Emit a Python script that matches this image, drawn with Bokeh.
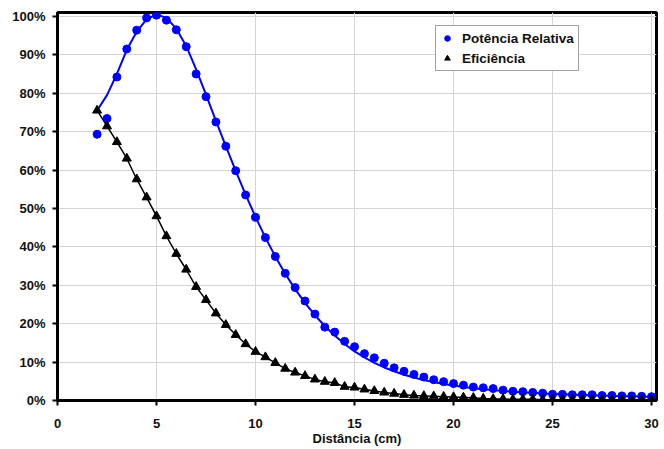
from bokeh.plotting import figure
from bokeh.models import Range1d, FixedTicker, Legend, LegendItem
from bokeh.embed import file_html
from bokeh.resources import INLINE

distancia = [2.0, 2.5, 3.0, 3.5, 4.0, 4.5, 5.0, 5.5, 6.0, 6.5, 7.0, 7.5, 8.0, 8.5, 9.0, 9.5,
             10.0, 10.5, 11.0, 11.5, 12.0, 12.5, 13.0, 13.5, 14.0, 14.5, 15.0, 15.5, 16.0, 16.5,
             17.0, 17.5, 18.0, 18.5, 19.0, 19.5, 20.0, 20.5, 21.0, 21.5, 22.0, 22.5, 23.0, 23.5,
             24.0, 24.5, 25.0, 25.5, 26.0, 26.5, 27.0, 27.5, 28.0, 28.5, 29.0, 29.5, 30.0]

potencia_relativa = [69.3, 73.4, 84.2, 91.5, 96.4, 99.6, 100.3, 99.0, 96.5, 92.1, 85.0, 79.1,
                     72.5, 66.2, 59.8, 53.5, 47.7, 42.4, 37.5, 33.1, 29.4, 25.9, 22.5, 19.1,
                     17.8, 15.4, 14.0, 12.2, 11.1, 9.7, 8.5, 7.6, 6.8, 6.1, 5.4, 4.9, 4.4, 4.0,
                     3.5, 3.3, 3.1, 2.7, 2.4, 2.3, 2.1, 1.9, 1.6, 1.6, 1.5, 1.5, 1.5, 1.3, 1.3,
                     1.2, 1.2, 1.1, 1.0]

ajuste_potencia = [75.5, 79.5, 85.0, 91.3, 96.0, 99.2, 100.5, 99.6, 96.8, 92.3, 86.2, 79.6,
                   72.8, 66.2, 59.8, 53.6, 47.8, 42.4, 37.5, 33.0, 29.0, 25.4, 22.2, 19.4,
                   16.9, 14.7, 12.8, 11.2, 9.8, 8.6, 7.6, 6.7, 6.0, 5.3, 4.8, 4.3, 3.9, 3.5,
                   3.2, 2.9, 2.7, 2.5, 2.3, 2.1, 2.0, 1.8, 1.7, 1.6, 1.5, 1.4, 1.3, 1.3, 1.2,
                   1.1, 1.1, 1.0, 1.0]

eficiencia = [75.5, 71.4, 67.3, 63.0, 57.6, 52.9, 48.0, 42.8, 38.2, 34.1, 29.6, 26.2,
              22.7, 19.7, 17.1, 14.7, 12.7, 11.3, 9.8, 8.3, 7.3, 6.4, 5.5, 4.9,
              4.6, 3.6, 3.4, 2.9, 2.5, 2.1, 1.8, 1.5, 1.3, 1.2, 1.1, 1.0, 0.9, 0.8,
              0.7, 0.5, 0.4, 0.4, 0.3, 0.3, 0.3, 0.2, 0.2, 0.2, 0.2, 0.2, 0.1, 0.1, 0.1,
              0.1, 0.1, 0.1, 0.1]

x_ticks = [0, 5, 10, 15, 20, 25, 30]
y_ticks = [0, 10, 20, 30, 40, 50, 60, 70, 80, 90, 100]
y_tick_labels = {t: f"{t}%" for t in y_ticks}

FONT = "Liberation Sans"

p = figure(width=660, height=448, output_backend="svg", toolbar_location=None,
           x_range=Range1d(0, 30.25), y_range=Range1d(0, 101.0),
           min_border_left=57, min_border_right=4, min_border_top=12, min_border_bottom=45)
p.background_fill_color = "white"
p.border_fill_color = "white"
p.outline_line_color = "black"
p.outline_line_width = 3

p.xaxis.ticker = FixedTicker(ticks=x_ticks)
p.yaxis.ticker = FixedTicker(ticks=y_ticks)
p.yaxis.major_label_overrides = y_tick_labels

for ax in (p.xaxis, p.yaxis):
    ax.axis_line_color = "black"
    ax.axis_line_width = 3
    ax.major_tick_line_color = "black"
    ax.major_tick_line_width = 2
    ax.major_tick_out = 5
    ax.major_tick_in = 0
    ax.minor_tick_line_color = None
    ax.major_label_text_font = FONT
    ax.major_label_text_font_style = "bold"
    ax.major_label_text_font_size = "13px"
    ax.major_label_text_color = "#111111"

p.yaxis.major_label_standoff = 7
p.xaxis.major_label_standoff = 13
p.xaxis.axis_label = "Distância (cm)"
p.xaxis.axis_label_text_font = FONT
p.xaxis.axis_label_text_font_style = "bold"
p.xaxis.axis_label_text_font_size = "13px"
p.xaxis.axis_label_text_color = "#111111"
p.xaxis.axis_label_standoff = 0

p.grid.grid_line_color = "#d4d4d4"
p.grid.grid_line_width = 1

p.line(distancia, ajuste_potencia, line_color="#0000ff", line_width=2)
p.line(distancia, eficiencia, line_color="black", line_width=1.5)
r_pot = p.scatter(distancia, potencia_relativa, marker="circle", size=8,
                  fill_color="#0000ff", line_color="#0000ff")
r_ef = p.scatter(distancia, eficiencia, marker="triangle", size=9,
                 fill_color="black", line_color="black")

legend = Legend(items=[LegendItem(label="Potência Relativa", renderers=[r_pot]),
                       LegendItem(label="Eficiência", renderers=[r_ef])],
                location=(378, 329))
legend.label_text_font = FONT
legend.label_text_font_style = "bold"
legend.label_text_font_size = "13.5px"
legend.label_text_color = "#111111"
legend.border_line_color = "#444444"
legend.border_line_width = 1
legend.background_fill_color = "white"
legend.background_fill_alpha = 1.0
legend.padding = 4
legend.spacing = 4
legend.glyph_width = 14
legend.glyph_height = 16
legend.label_height = 16
legend.label_standoff = 8
legend.margin = 0
p.add_layout(legend, "center")

open("out.html", "w").write(file_html(p, INLINE))
